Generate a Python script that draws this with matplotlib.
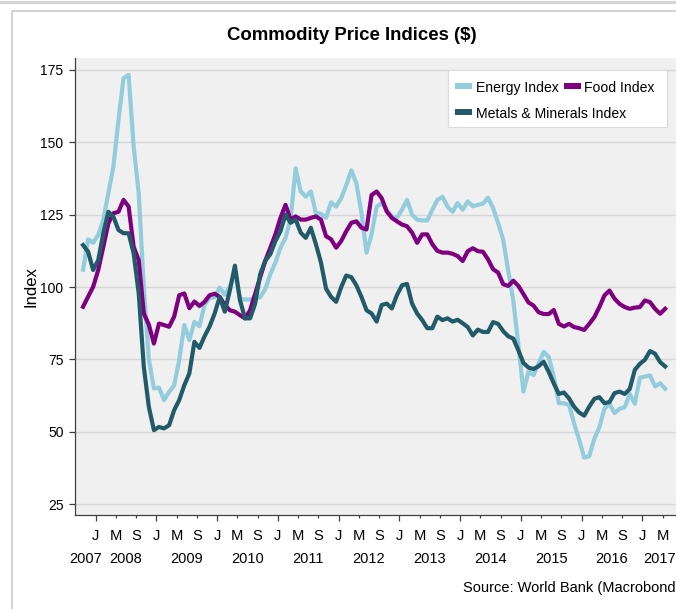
import numpy as np
import matplotlib
matplotlib.use("Agg")
import matplotlib.pyplot as plt
from matplotlib import font_manager
from matplotlib.patches import Rectangle
from matplotlib.lines import Line2D

W, H = 676, 609

title = "Commodity Price Indices ($)"
# the reference crops the source note at its right edge
source = "Source: World Bank (Macrobond"
series_names = ["Energy Index", "Food Index", "Metals & Minerals Index"]
colors = ["#93CDDD", "#7F007F", "#215A68"]

# monthly values, Oct 2007 .. May 2017 (month offset relative to Jan 2008)
first_month = -3
years = list(range(2007, 2018))
month_letters = {0: "J", 4: "M", 8: "S"}

energy = [
    106.0, 116.5, 115.3,
    118.0, 123.2, 132.4, 141.6, 157.7, 172.1, 173.3, 148.5, 132.4, 100.0, 75.0, 65.0,
    65.3, 61.0, 63.8, 66.1, 74.8, 86.9, 81.7, 88.0, 86.5, 94.0, 96.2, 96.5,
    99.8, 97.3, 100.2, 104.7, 96.0, 95.7, 95.7, 96.2, 96.5, 99.3, 104.5, 108.5,
    113.6, 117.0, 123.6, 141.0, 133.0, 131.2, 133.0, 125.6, 125.3, 123.9, 129.3, 127.8,
    130.7, 135.2, 140.3, 135.8, 125.6, 111.9, 118.2, 127.8, 129.0, 126.7, 124.4, 123.9,
    126.7, 130.1, 125.0, 123.3, 123.0, 123.0, 126.7, 130.1, 131.2, 127.8, 126.0, 129.0,
    126.7, 129.6, 127.9, 128.4, 128.8, 130.9, 127.3, 122.1, 116.4, 105.6, 95.3, 80.0,
    63.9, 70.8, 69.6, 73.6, 77.6, 75.9, 69.0, 59.9, 59.9, 59.3, 53.0, 47.3,
    41.1, 41.6, 47.6, 51.6, 58.0, 59.7, 56.5, 58.0, 58.5, 63.1, 59.7, 68.7,
    69.1, 69.5, 65.7, 66.8, 64.9,
]
food = [
    93.2, 96.7, 100.1,
    105.9, 113.9, 122.0, 125.5, 126.0, 130.1, 127.8, 113.9, 109.3, 90.9, 87.0, 80.5,
    87.4, 86.9, 86.3, 89.8, 97.2, 97.8, 92.7, 95.0, 93.5, 94.9, 97.2, 97.7,
    96.6, 93.8, 92.0, 91.5, 90.3, 89.2, 92.0, 97.7, 103.4, 109.1, 113.6, 118.2,
    123.9, 128.4, 123.3, 124.4, 123.3, 123.3, 123.9, 124.4, 123.3, 117.6, 116.5, 113.6,
    115.9, 119.3, 122.2, 122.7, 120.5, 119.9, 131.8, 133.0, 130.7, 126.1, 123.9, 122.7,
    121.6, 121.0, 118.8, 115.3, 118.2, 118.2, 114.8, 112.5, 111.9, 111.9, 111.5, 110.7,
    109.0, 112.4, 113.4, 112.4, 112.2, 109.6, 106.2, 105.0, 101.0, 100.4, 102.2, 100.4,
    97.6, 94.7, 93.6, 91.3, 90.7, 90.7, 92.1, 87.3, 86.4, 87.3, 86.2, 85.8,
    85.2, 87.3, 89.6, 93.1, 97.1, 98.8, 96.0, 94.2, 93.1, 92.5, 92.9, 93.1,
    95.4, 94.8, 92.5, 90.8, 92.5,
]
metals = [
    114.5, 112.2, 105.9,
    109.3, 118.6, 126.0, 124.3, 119.7, 118.6, 118.6, 111.6, 97.8, 72.5, 58.6, 50.6,
    51.7, 51.2, 52.3, 57.5, 61.0, 66.1, 70.2, 81.1, 79.0, 83.0, 86.4, 90.9,
    96.6, 91.5, 98.9, 107.4, 95.5, 89.2, 89.2, 94.3, 104.5, 109.1, 111.4, 115.9,
    119.3, 125.0, 122.2, 123.3, 118.8, 117.0, 120.5, 114.8, 108.5, 99.5, 96.6, 94.9,
    100.0, 104.0, 103.4, 100.6, 96.6, 92.0, 90.9, 88.1, 93.8, 94.3, 92.6, 97.2,
    100.6, 101.1, 94.3, 90.9, 88.6, 85.8, 85.8, 89.8, 88.6, 89.2, 88.1, 88.7,
    87.5, 86.2, 83.3, 85.3, 84.5, 84.5, 87.9, 87.3, 84.8, 83.0, 82.2, 78.2,
    73.8, 72.2, 71.7, 72.7, 74.2, 70.7, 66.7, 63.1, 63.6, 61.6, 58.7, 56.7,
    55.6, 58.7, 61.4, 62.0, 59.9, 60.3, 63.4, 63.9, 63.1, 64.8, 71.4, 73.5,
    74.9, 77.9, 77.0, 74.1, 72.6,
]

# the reference uses a condensed Arial-like face
available = {f.name for f in font_manager.fontManager.ttflist}
if "Liberation Sans Narrow" in available:
    FONT, k = "Liberation Sans Narrow", 1.19
else:
    FONT, k = "Liberation Sans", 1.0
plt.rcParams["font.family"] = [FONT, "DejaVu Sans"]


def px(x, y):
    return x / W, 1 - y / H


def fig_box(x0, y0, x1, y1, **kw):
    return Rectangle((x0 / W, 1 - y1 / H), (x1 - x0) / W, (y1 - y0) / H,
                     transform=fig.transFigure, **kw)


fig = plt.figure(figsize=(W / 100, H / 100), dpi=100)
ax = fig.add_axes([75 / W, 1 - 515 / H, 1 - 75 / W, (515 - 58.3) / H])
ax.set_facecolor("#f0f0f0")

x = first_month + np.arange(len(energy)) + 0.5
for vals, name, c in zip([energy, food, metals], series_names, colors):
    ax.plot(x, vals, color=c, lw=3.0, solid_joinstyle="round", label=name)

xlim = (-4.09, 114.64)
ax.set_xlim(*xlim)
ax.set_ylim(21.3, 179.0)
ax.set_yticks(np.arange(25, 176, 25))
ax.grid(axis="y", color="#d6d6d6", lw=1.0)
ax.set_axisbelow(True)
for s in ["top", "right"]:
    ax.spines[s].set_visible(False)
for s in ["left", "bottom"]:
    ax.spines[s].set_color("#404040")
    ax.spines[s].set_linewidth(0.9)
ax.tick_params(axis="y", length=4.3, width=0.9, pad=4, labelsize=10 * k,
               color="#404040")

major = [m for m in range(0, 115, 12)]
minor = [m for m in range(0, 115, 4) if m % 12 and xlim[0] < m < xlim[1]]
ax.set_xticks(major)
ax.set_xticks(minor, minor=True)
ax.tick_params(axis="x", which="major", length=4.3, width=0.9, color="#404040",
               labelbottom=False)
ax.tick_params(axis="x", which="minor", length=2.2, width=0.9, color="#404040",
               labelbottom=False)

for m in sorted(major + minor):
    ax.annotate(month_letters[m % 12], xy=(m, 0), xycoords=("data", "axes fraction"),
                xytext=(0, -25 * 0.72), textcoords="offset points",
                ha="center", va="baseline", fontsize=10.6 * k)

for yr in years:
    lo = max(12 * (yr - 2008), xlim[0])
    hi = min(12 * (yr - 2007), xlim[1])
    ax.annotate(str(yr), xy=((lo + hi) / 2, 0), xycoords=("data", "axes fraction"),
                xytext=(0, -48.3 * 0.72), textcoords="offset points",
                ha="center", va="baseline", fontsize=10.5 * k)

fig.text(*px(352, 40.5), title, ha="center", va="baseline",
         fontsize=13.4 * k, fontweight="bold")
fig.text(*px(675.5, 592), source, ha="right", va="baseline", fontsize=10.5 * k)
fig.text(*px(31, 287), "Index", rotation=90, ha="center", va="center",
         fontsize=12, family="Liberation Sans")

# legend box
fig.add_artist(fig_box(449.5, 71.5, 668, 128, facecolor="#c4c4c4", edgecolor="none"))
fig.add_artist(fig_box(448, 70, 666.5, 126.5, facecolor="white",
                       edgecolor="#dcdcdc", lw=0.8))
legend_slots = [(455, 86), (455, 112), (564, 86)]
for (lx, ly), name, c in zip(legend_slots, [series_names[0], series_names[2], series_names[1]],
                             [colors[0], colors[2], colors[1]]):
    fig.add_artist(fig_box(lx, ly - 2.6, lx + 17, ly + 2.6, facecolor=c, edgecolor="none"))
    fig.text(*px(lx + 20.5, ly + 6), name, ha="left", va="baseline", fontsize=10.1 * k)

# outer frame
fig.add_artist(Line2D([0, 1], [1 - 1.5 / H] * 2, transform=fig.transFigure,
                      color="#d4d4d4", lw=2.2))
fig.add_artist(Line2D([12 / W, 12 / W, 1], [0, 1 - 10.5 / H, 1 - 10.5 / H],
                      transform=fig.transFigure, color="#cfcfcf", lw=1.3))

fig.savefig("out.png", dpi=100)
